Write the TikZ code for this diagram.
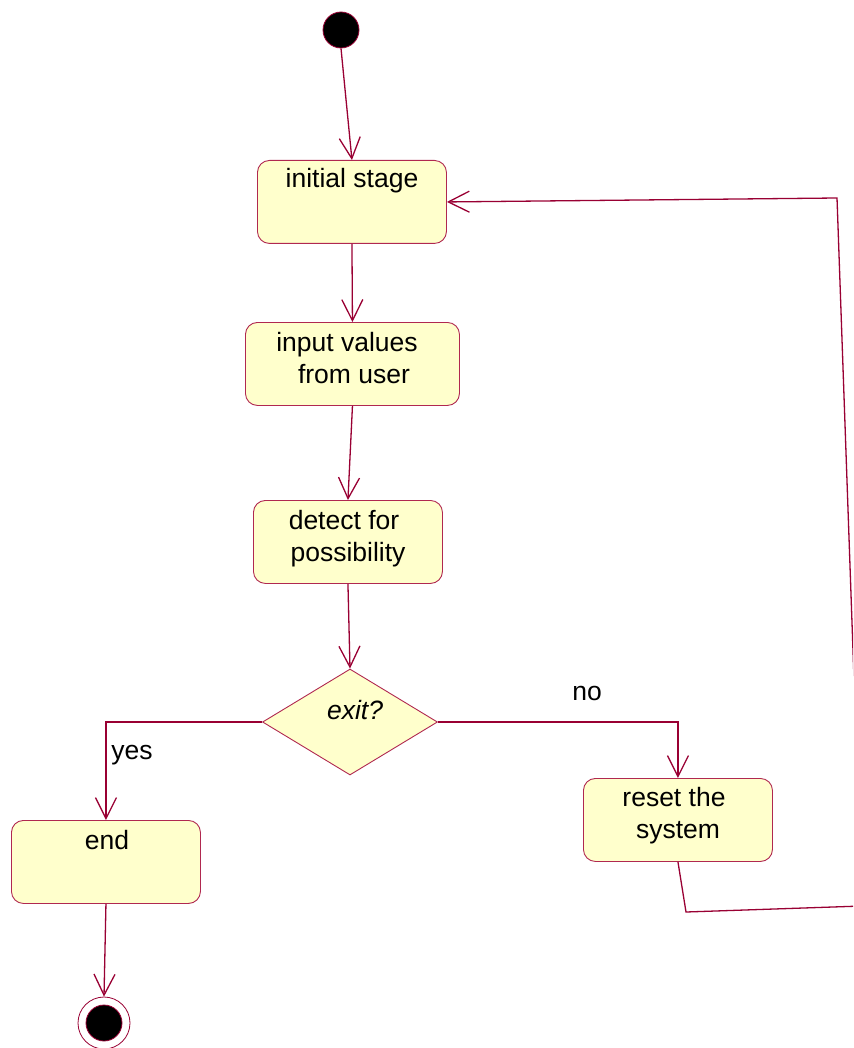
\documentclass[tikz,border=0pt]{standalone}
\usepackage{fontspec}
\setmainfont{Liberation Sans}
\usetikzlibrary{arrows.meta,shapes.geometric}
\definecolor{wire}{RGB}{153,0,51}
\definecolor{edge}{RGB}{176,40,80}
\definecolor{cream}{RGB}{255,255,204}
\tikzset{
  flow/.style={draw=wire,line width=1.3pt,-{Straight Barb[length=21pt,width=21pt,line width=1.3pt]}},
  plain/.style={draw=wire,line width=1.3pt},
  act/.style={draw=edge,fill=cream,line width=0.9pt,rounded corners=12pt,
    minimum width=189pt,minimum height=83pt,inner sep=0pt,anchor=north west},
  txt/.style={anchor=base,inner sep=0pt,font=\fontsize{26.5}{30}\selectfont},
}
\begin{document}
\begin{tikzpicture}[x=1pt,y=-1pt]
\useasboundingbox (0,0) rectangle (853,1048);
\clip (0,0) rectangle (853,1048);

% initial and final pseudo-states
\node (start) [circle,draw=wire,fill=black,line width=0.8pt,minimum size=36pt,inner sep=0pt] at (341,30) {};
\node (stop) [circle,draw=wire,fill=white,line width=0.8pt,minimum size=52pt,inner sep=0pt] at (104,1023) {};
\node (stopdot) [circle,draw=wire,fill=black,line width=0.8pt,minimum size=36pt,inner sep=0pt] at (104,1023) {};

% activities
\node (init)   [act,minimum width=189pt] at (257,160) {};
\node (input)  [act,minimum width=214pt] at (245,322) {};
\node (detect) [act,minimum width=189pt] at (253,500) {};
\node (endbox) [act,minimum width=189pt] at (11,820) {};
\node (reset)  [act,minimum width=189pt] at (583,778) {};

% decision
\node (dec) [diamond,draw=edge,fill=cream,line width=0.9pt,inner sep=0pt,
  minimum width=175pt,minimum height=106pt] at (350,722) {};

% labels
\node (tinit)  [txt] at (352,188) {initial stage};
\node (tin1)   [txt] at (347,351) {input values};
\node (tin2)   [txt] at (354,383) {from user};
\node (tdet1)  [txt] at (344,529) {detect for};
\node (tdet2)  [txt] at (348,561) {possibility};
\node (tend)   [txt] at (107,849) {end};
\node (tres1)  [txt] at (674,806) {reset the};
\node (tres2)  [txt] at (678,838) {system};
\node (texit)  [txt,font=\fontsize{26.5}{30}\selectfont\itshape] at (355,719) {exit?};
\node (tno)    [txt] at (587,700) {no};
\node (tyes)   [txt] at (132,759) {yes};

% return path from reset back to the initial stage
\coordinate (r1) at (686,912);
\coordinate (r2) at (862,906);
\coordinate (r3) at (837,198);

% transitions
\draw[flow] (start.south) -- (init.north);
\draw[flow] (init.south) -- (input.north);
\draw[flow] (input.south) -- (detect.north);
\draw[flow] (detect.south) -- (dec.north);
\draw[flow] (dec.west) -| (endbox.north);
\draw[flow] (dec.east) -| (reset.north);
\draw[flow] (endbox.south) -- (stop.north);
\draw[flow] (reset.south) -- (r1) -- (r2) -- (r3) -- (init.east);
\end{tikzpicture}
\end{document}
